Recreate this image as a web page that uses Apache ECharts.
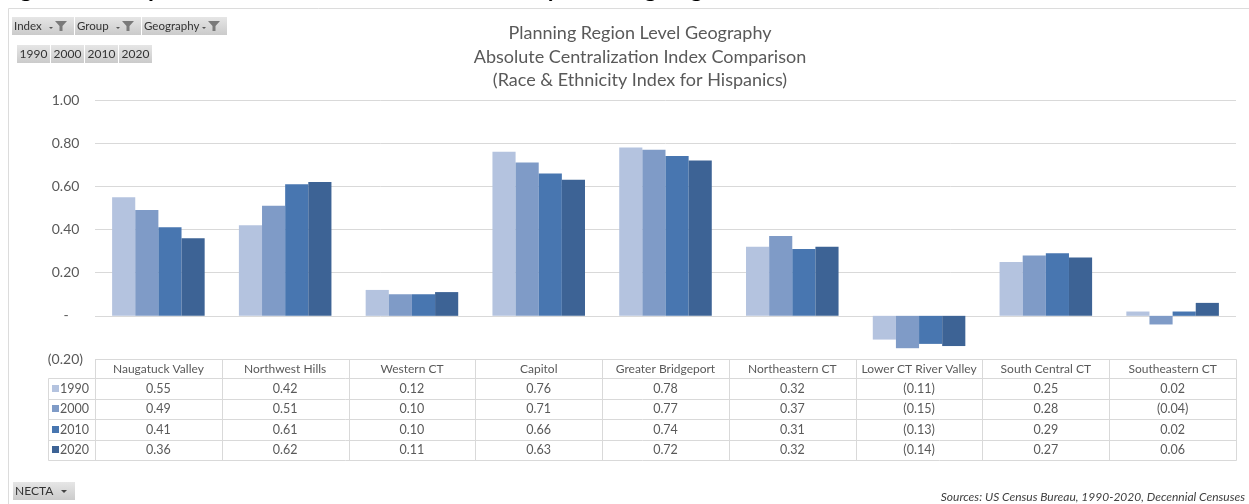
<!DOCTYPE html>
<html><head><meta charset="utf-8">
<script src="https://cdn.jsdelivr.net/npm/echarts@6/dist/echarts.min.js"></script>
<style>html,body{margin:0;padding:0;background:#fff}#c{width:1249px;height:504px}</style>
</head><body><div id="c"></div>
<script>
// ---------- data ----------
const categories = ['Naugatuck Valley','Northwest Hills','Western CT','Capitol','Greater Bridgeport','Northeastern CT','Lower CT River Valley','South Central CT','Southeastern CT'];
const years = ['1990','2000','2010','2020'];
const v1990 = [0.55,0.42,0.12,0.76,0.78,0.32,-0.11,0.25,0.02];
const v2000 = [0.49,0.51,0.10,0.71,0.77,0.37,-0.15,0.28,-0.04];
const v2010 = [0.41,0.61,0.10,0.66,0.74,0.31,-0.13,0.29,0.02];
const v2020 = [0.36,0.62,0.11,0.63,0.72,0.32,-0.14,0.27,0.06];
const seriesValues = [v1990, v2000, v2010, v2020];
const yMin = -0.2, yMax = 1.0, yStep = 0.2;
const titleLines = ['Planning Region Level Geography','Absolute Centralization Index Comparison','(Race & Ethnicity Index for Hispanics)'];
const headerText = 'Figure 13: Hispanic Absolute Centralization Index by Planning Region Level';
const filterButtons = ['Index','Group','Geography'];
const footButton = 'NECTA';
const sourceText = 'Sources: US Census Bureau, 1990-2020, Decennial Censuses';

// ---------- style ----------
const colors = ['#b4c3df','#7f9bc7','#4876b0','#3d6395'];
const FONT = 'Lato, "Liberation Sans", sans-serif';
const txt = '#595959';
const gridCol = '#d9d9d9';

function fmt(v){
  if (Math.abs(v) < 1e-9) return '-';
  return v < 0 ? '(' + Math.abs(v).toFixed(2) + ')' : v.toFixed(2);
}

const chart = echarts.init(document.getElementById('c'));
const option = {
  animation: false,
  backgroundColor: '#fff',
  grid: { left: 95, right: 13, top: 100, bottom: 145, containLabel: false },
  xAxis: {
    type: 'category', data: categories,
    axisLine: { show: false }, axisTick: { show: false }, axisLabel: { show: false },
    splitLine: { show: false }
  },
  yAxis: {
    type: 'value', min: yMin, max: yMax, interval: yStep,
    axisLine: { show: false }, axisTick: { show: false },
    axisLabel: {
      color: txt, fontFamily: FONT, fontSize: 14, margin: 12,
      formatter: function(v){ const s = fmt(v); return s === '-' ? '-    ' : (v > 0 ? s + ' ' : s); }
    },
    splitLine: { lineStyle: { color: gridCol, width: 1 } }
  },
  series: years.map(function(y, i){
    return {
      name: y, type: 'bar', data: seriesValues[i],
      barGap: '0%', barCategoryGap: '27%',
      itemStyle: { color: colors[i] }
    };
  })
};
chart.setOption(option);

// ---------- data table, title and controls (graphic) ----------
const g = [];
const c0 = chart.convertToPixel({ xAxisIndex: 0 }, categories[0]);
const c1 = chart.convertToPixel({ xAxisIndex: 0 }, categories[1]);
const band = c1 - c0;
const x0 = c0 - band / 2;
const xEnd = x0 + band * categories.length;
const yTop = chart.convertToPixel({ yAxisIndex: 0 }, yMin);
const legendLeft = 48;
const headH = 19, rowH = 20.5;
const rowTops = [yTop, yTop + headH];
for (let i = 1; i <= years.length; i++) rowTops.push(yTop + headH + rowH * i);
const yBottom = rowTops[rowTops.length - 1];
const crisp = v => Math.round(v) + 0.5;
function line(x1, y1, x2, y2, col){
  g.push({ type: 'line', silent: true, shape: { x1: crisp(x1), y1: crisp(y1), x2: crisp(x2), y2: crisp(y2) }, style: { stroke: col || gridCol, lineWidth: 1 } });
}
function text(t, x, y, opts){
  g.push({ type: 'text', silent: true, x: x, y: y, style: Object.assign({ text: t, fill: txt, font: '12px ' + FONT, align: 'center', verticalAlign: 'middle' }, opts || {}) });
}
// horizontal lines
line(x0, rowTops[0], xEnd, rowTops[0]);
for (let r = 1; r < rowTops.length; r++) line(legendLeft, rowTops[r], xEnd, rowTops[r]);
// vertical lines
line(legendLeft, rowTops[1], legendLeft, yBottom);
for (let k = 0; k <= categories.length; k++) line(x0 + band * k, rowTops[0], x0 + band * k, yBottom);
// header
categories.forEach(function(c, k){ text(c, x0 + band * (k + 0.5), (rowTops[0] + rowTops[1]) / 2 + 0.5); });
// rows
years.forEach(function(y, i){
  const yc = (rowTops[i + 1] + rowTops[i + 2]) / 2 + 0.5;
  g.push({ type: 'rect', silent: true, shape: { x: 52, y: Math.round(yc) - 4, width: 7, height: 7 }, style: { fill: colors[i] } });
  text(y, 60, yc, { align: 'left', font: '12.5px ' + FONT });
  seriesValues[i].forEach(function(v, k){ text(fmt(v), x0 + band * (k + 0.5), yc, { font: '12.5px ' + FONT }); });
});
// title
titleLines.forEach(function(t, i){ text(t, 640, 33 + i * 23.8, { font: '18px ' + FONT, fill: txt }); });
// cut-off figure header (only its lowest pixels show at the top edge)
text(headerText, 0, 1, { font: 'bold 24px ' + FONT, fill: '#000', align: 'left', verticalAlign: 'bottom' });
// frame lines
line(8, 8, 1249, 8, '#dcdcdc');
line(8, 8, 8, 504, '#dcdcdc');
// buttons
const grad = { type: 'linear', x: 0, y: 0, x2: 0, y2: 1, colorStops: [{ offset: 0, color: '#e6e6e6' }, { offset: 1, color: '#cbcbcb' }] };
function funnel(x, y){
  g.push({ type: 'polygon', silent: true, shape: { points: [[x, y], [x + 12, y], [x + 7.5, y + 5], [x + 7.5, y + 10], [x + 4.5, y + 10], [x + 4.5, y + 5]] }, style: { fill: '#7a7a7a' } });
  g.push({ type: 'polygon', silent: true, shape: { points: [[x - 6, y + 6], [x - 2, y + 6], [x - 4, y + 8]] }, style: { fill: '#555' } });
}
const fbX = [12, 75, 142, 228];
filterButtons.forEach(function(b, i){
  g.push({ type: 'rect', silent: true, shape: { x: fbX[i], y: 17, width: fbX[i + 1] - fbX[i] - 1, height: 18 }, style: { fill: grad } });
  text(b, fbX[i] + 2, 26, { align: 'left', fill: '#333', font: '11.5px ' + FONT });
  funnel(fbX[i + 1] - 20, 21);
});
const ybX = [17, 51, 85, 119, 153];
years.forEach(function(y, i){
  g.push({ type: 'rect', silent: true, shape: { x: ybX[i], y: 45, width: ybX[i + 1] - ybX[i] - 1, height: 18 }, style: { fill: grad } });
  text(y, (ybX[i] + ybX[i + 1] - 1) / 2, 54.5, { fill: '#333', font: '12px ' + FONT });
});
g.push({ type: 'rect', silent: true, shape: { x: 13, y: 482, width: 62, height: 18 }, style: { fill: grad } });
text(footButton, 15, 491.5, { align: 'left', fill: '#333', font: '12px ' + FONT });
g.push({ type: 'polygon', silent: true, shape: { points: [[61, 490], [67, 490], [64, 493]] }, style: { fill: '#444' } });
// source
text(sourceText, 1245, 497, { align: 'right', font: 'italic 12px ' + FONT, fill: '#404040' });

chart.setOption({ graphic: { elements: g } });
</script>
</body></html>
